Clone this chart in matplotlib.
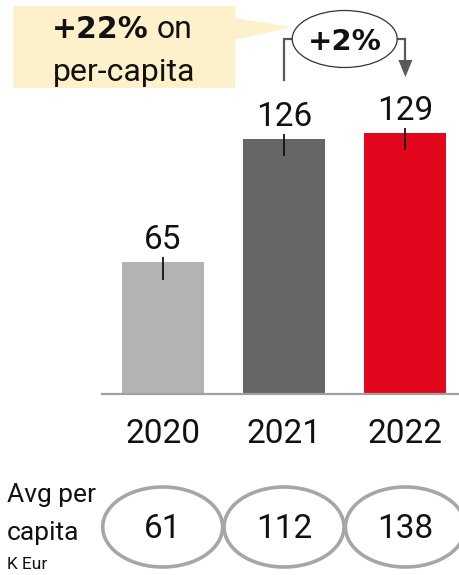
import matplotlib
matplotlib.use("Agg")
import matplotlib.pyplot as plt
import matplotlib.transforms as mtransforms
from matplotlib.patches import Ellipse, Polygon

# ─── Data ─────────────────────────────────────────────
years = ["2020", "2021", "2022"]
values = [65, 126, 129]
per_capita = [61, 112, 138]
bar_colors = ["#B3B3B3", "#666666", "#E2071D"]
growth_label = "+2%"
callout_bold = "+22%"
callout_rest = "on"
callout_line2 = "per-capita"

W, H = 460, 575
REG = "Roboto"
BOLD = "DejaVu Sans"


def fy(py):
    """pixel-from-top -> figure fraction"""
    return 1 - py / H


def fx(px):
    return px / W


fig = plt.figure(figsize=(W / 100, H / 100), dpi=100)
ax = fig.add_axes([fx(102), fy(394), fx(358), 394 / H])

x = list(range(len(years)))
ax.bar(x, values, width=0.675, color=bar_colors, zorder=2)
ax.set_xlim(-0.5, 2.45)
ax.set_ylim(0, 194.6)

# small marker lines on top of bars
ax.vlines(x, [v - 8.5 for v in values], [v + 2.5 for v in values],
          color="#111111", lw=1.3, zorder=3)
for xi, v in zip(x, values):
    ax.annotate(str(v), (xi, v), xytext=(0, 9.5), textcoords="offset points",
                ha="center", va="baseline", fontsize=24, family=REG, color="#111111")

for s in ["top", "left", "right"]:
    ax.spines[s].set_visible(False)
ax.spines["bottom"].set_color("#A0A0A0")
ax.spines["bottom"].set_linewidth(1.6)
ax.set_yticks([])
ax.set_xticks(x, years)
ax.tick_params(axis="x", length=0, pad=17)
for lbl in ax.get_xticklabels():
    lbl.set_fontsize(24)
    lbl.set_family(REG)
    lbl.set_color("#111111")

# blended: x in bar data units, y in figure fraction
bt = mtransforms.blended_transform_factory(ax.transData, fig.transFigure)
sx = 1 / 121.4  # data units per pixel along x

# per-capita ellipses
for xi, pc in zip(x, per_capita):
    ax.add_patch(Ellipse((xi, fy(527)), 120 * sx, 80 / H, transform=bt,
                         fill=False, ec="#A6A6A6", lw=2.6, clip_on=False))
    ax.text(xi, fy(538), str(pc), transform=bt, ha="center", va="baseline",
            fontsize=24, family=REG, color="#111111")

fig.text(fx(7), fy(502), "Avg per", fontsize=19, family=REG, color="#111111")
fig.text(fx(7), fy(540), "capita", fontsize=19, family=REG, color="#111111")
fig.text(fx(7), fy(569), "K Eur", fontsize=12.5, family=REG, color="#111111")

# callout box with pointer
box = Polygon([(fx(13), fy(6)), (fx(235), fy(6)), (fx(235), fy(18)),
               (fx(292), fy(27)), (fx(235), fy(40)), (fx(235), fy(88)),
               (fx(13), fy(88))], closed=True, transform=fig.transFigure,
              fc="#FDF1CB", ec="none")
fig.patches.append(box)
fig.text(fx(149), fy(38), callout_bold, ha="right", va="baseline",
         fontsize=21.5, family=BOLD, weight="bold", color="#111111")
fig.text(fx(157), fy(38), callout_rest, ha="left", va="baseline",
         fontsize=23, family=REG, color="#111111")
fig.text(fx(124), fy(81), callout_line2, ha="center", va="baseline",
         fontsize=23, family=REG, color="#111111")

# growth bracket 2021 -> 2022
gc = "#595959"
mid = (x[1] + x[2]) / 2
ew = 105 * sx
ax.plot([x[1], x[1], mid - ew / 2], [fy(80), fy(39), fy(39)], transform=bt,
        color=gc, lw=1.6, clip_on=False, solid_joinstyle="miter")
ax.plot([mid + ew / 2, x[2], x[2]], [fy(39), fy(39), fy(62)], transform=bt,
        color=gc, lw=1.6, clip_on=False, solid_joinstyle="miter")
ax.add_patch(Polygon([(x[2] - 7 * sx, fy(60)), (x[2] + 7 * sx, fy(60)),
                      (x[2], fy(77))], closed=True, transform=bt,
                     fc=gc, ec="none", clip_on=False))
ax.add_patch(Ellipse((mid, fy(39)), ew, 57 / H, transform=bt,
                     fc="white", ec="#333333", lw=0.9, clip_on=False, zorder=5))
ax.text(mid, fy(50), growth_label, transform=bt, ha="center", va="baseline",
        fontsize=21, family=BOLD, weight="bold", color="#111111", zorder=6)

fig.savefig("out.png", dpi=100)
